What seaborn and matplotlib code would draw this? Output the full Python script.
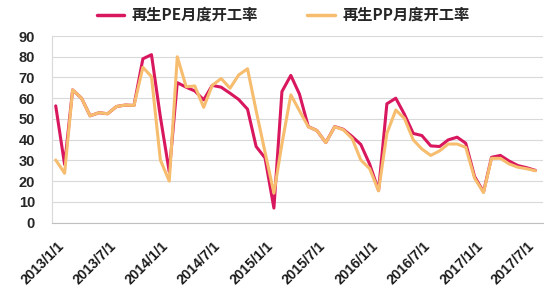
import matplotlib
matplotlib.use("Agg")
import matplotlib.pyplot as plt
import matplotlib.transforms as mtransforms
from matplotlib.lines import Line2D
import seaborn as sns
import pandas as pd

# ---- data ----
months = pd.date_range("2013-01-01", "2017-08-01", freq="MS") + pd.Timedelta(days=14)
pe_values = [56.3, 28.0, 64.0, 60.0, 51.5, 53.0, 52.5, 56.0, 56.7, 56.5,
             79.0, 81.0, 51.0, 24.5, 67.5, 65.3, 63.5, 59.2, 66.2, 65.3,
             62.4, 59.4, 54.7, 36.7, 31.2, 7.0, 63.2, 71.0, 62.0, 46.3,
             44.4, 38.6, 46.3, 45.0, 41.5, 37.7, 28.2, 15.5, 57.3, 60.0,
             52.3, 43.0, 42.0, 37.0, 36.7, 39.9, 41.2, 38.3, 22.2, 14.8,
             31.5, 32.4, 29.7, 27.5, 26.5, 25.2]
pp_values = [30.2, 23.8, 64.0, 60.0, 51.5, 53.0, 52.5, 56.0, 56.7, 56.5,
             74.9, 70.4, 30.2, 20.0, 80.0, 65.5, 65.9, 55.6, 66.2, 69.5,
             64.8, 71.2, 74.2, 54.0, 34.0, 14.2, 38.0, 61.6, 54.0, 46.2,
             44.4, 38.6, 46.2, 44.8, 40.5, 30.2, 26.0, 15.3, 43.0, 54.3,
             50.3, 39.9, 35.5, 32.4, 34.6, 37.9, 37.9, 36.3, 21.4, 14.5,
             31.0, 31.0, 28.3, 26.7, 26.0, 25.0]
series_names = ["再生PE月度开工率", "再生PP月度开工率"]
series_colors = ["#d9175e", "#f7bd6e"]
tick_dates = pd.to_datetime(["2013-01-01", "2013-07-01", "2014-01-01", "2014-07-01",
                             "2015-01-01", "2015-07-01", "2016-01-01", "2016-07-01",
                             "2017-01-01", "2017-07-01"])
tick_labels = ["2013/1/1", "2013/7/1", "2014/1/1", "2014/7/1", "2015/1/1",
               "2015/7/1", "2016/1/1", "2016/7/1", "2017/1/1", "2017/7/1"]
y_ticks = list(range(0, 100, 10))

df = pd.DataFrame({
    "date": list(months) * 2,
    "value": pe_values + pp_values,
    "series": [series_names[0]] * len(months) + [series_names[1]] * len(months),
})

sns.set_style("white")
plt.rcParams["font.family"] = ["Noto Sans CJK SC", "DejaVu Sans"]

fig = plt.figure(figsize=(5.5, 3.0), dpi=100)
ax = fig.add_axes([0.094, 0.258, 0.893, 0.622])

sns.lineplot(data=df, x="date", y="value", hue="series",
             hue_order=series_names, palette=series_colors,
             linewidth=2.2, ax=ax, legend=False)

ax.set_xlim(pd.Timestamp("2013-01-01"), pd.Timestamp("2017-09-10"))
ax.set_ylim(0, 90)
ax.set_yticks(y_ticks)
ax.set_yticklabels([str(v) for v in y_ticks], fontsize=10.5, fontweight="bold",
                   family=["Liberation Sans", "DejaVu Sans"])
ax.set_xticks(tick_dates)
ax.set_xticklabels([""] * len(tick_dates))

# rotated date labels, anchored just right of and below each tick
label_tr = mtransforms.blended_transform_factory(ax.transData, ax.transAxes) + \
    mtransforms.ScaledTranslation(0.05, -0.16, fig.dpi_scale_trans)
for d, lab in zip(tick_dates, tick_labels):
    ax.text(d, 0, lab, transform=label_tr, rotation=45, ha="right", va="top",
            rotation_mode="anchor", fontsize=10, fontweight="bold",
            family=["Liberation Sans", "DejaVu Sans"], color="#1a1a1a")

ax.tick_params(axis="y", length=0, pad=12)
ax.tick_params(axis="x", length=4, width=0.8, color="#bfbfbf", pad=2)
ax.grid(axis="y", color="#d9d9d9", linewidth=0.8)
ax.set_axisbelow(True)
for side in ["top", "right"]:
    ax.spines[side].set_visible(False)
ax.spines["left"].set_color("#d9d9d9")
ax.spines["bottom"].set_color("#bfbfbf")
ax.set_xlabel("")
ax.set_ylabel("")

handles = [Line2D([0], [0], color=c, linewidth=2.5) for c in series_colors]
fig.legend(handles, series_names, loc="center", bbox_to_anchor=(0.515, 0.95), ncol=2,
           frameon=False, prop={"size": 11, "weight": "bold"},
           handlelength=1.8, columnspacing=3.2, handletextpad=0.5)

fig.savefig("out.png", dpi=100)
